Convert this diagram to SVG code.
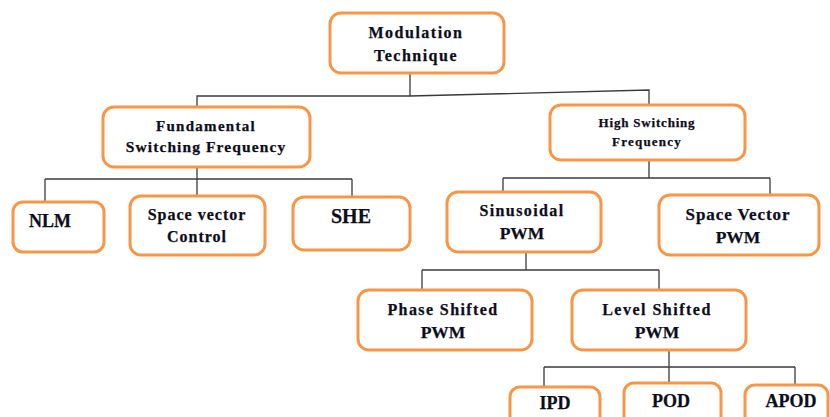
<svg xmlns="http://www.w3.org/2000/svg" width="830" height="417" viewBox="0 0 830 417">
<style>
.box{fill:#fff;stroke:#F79646;stroke-width:3}
.t{font-family:"Liberation Serif","Times New Roman",serif;font-weight:bold;fill:#0d0d1a;text-anchor:middle;stroke:#0d0d1a;stroke-width:0.25}
.c{fill:none;stroke:#3a3a3a;stroke-width:1.3}
</style>
<rect width="830" height="417" fill="#fff"/>
<g id="connectors">
<path class="c" d="M410 73V96H197V107M410 96L649 90V105"/>
<path class="c" d="M197 167V179M45 179H352M45 179V202M197 179V196M352 179V197"/>
<path class="c" d="M649 160V178M503 178H770M503 178V192M770 178V195"/>
<path class="c" d="M526 252V270M422 270H659M422 270V290M659 270V290"/>
<path class="c" d="M669 350V384M544 367H795M544 367V387M795 367V385"/>
</g>
<g id="modulation">
<rect class="box" x="330" y="13" width="174" height="60" rx="11"/>
<text class="t" x="416" y="38" font-size="16" letter-spacing="1.5">Modulation</text>
<text class="t" x="416" y="61" font-size="16" letter-spacing="1.5">Technique</text>
</g>
<g id="fundamental">
<rect class="box" x="103" y="107" width="207" height="60" rx="11"/>
<text class="t" x="206" y="131" font-size="15" letter-spacing="1.3">Fundamental</text>
<text class="t" x="206" y="152" font-size="15.5" letter-spacing="1.1">Switching Frequency</text>
</g>
<g id="high">
<rect class="box" x="550" y="105" width="195" height="55" rx="11"/>
<text class="t" x="647" y="127" font-size="13" letter-spacing="0.8">High Switching</text>
<text class="t" x="647" y="146" font-size="13" letter-spacing="1.2">Frequency</text>
</g>
<g id="nlm">
<rect class="box" x="13" y="202" width="91" height="50" rx="10"/>
<text class="t" x="50" y="227" font-size="18">NLM</text>
</g>
<g id="svc">
<rect class="box" x="130" y="196" width="135" height="59" rx="11"/>
<text class="t" x="197" y="220" font-size="16" letter-spacing="1">Space vector</text>
<text class="t" x="197" y="242" font-size="16" letter-spacing="1">Control</text>
</g>
<g id="she">
<rect class="box" x="293" y="197" width="117" height="53" rx="11"/>
<text class="t" x="351" y="223" font-size="20">SHE</text>
</g>
<g id="sinusoidal">
<rect class="box" x="447" y="192" width="154" height="60" rx="11"/>
<text class="t" x="522" y="216" font-size="16" letter-spacing="1.4">Sinusoidal</text>
<text class="t" x="522" y="239" font-size="17.5">PWM</text>
</g>
<g id="svpwm">
<rect class="box" x="659" y="195" width="160" height="60" rx="11"/>
<text class="t" x="738" y="220" font-size="17" letter-spacing="0.9">Space Vector</text>
<text class="t" x="738" y="243" font-size="17.5">PWM</text>
</g>
<g id="phase">
<rect class="box" x="358" y="290" width="174" height="60" rx="11"/>
<text class="t" x="443" y="315" font-size="16" letter-spacing="1.4">Phase Shifted</text>
<text class="t" x="443" y="338" font-size="17.5">PWM</text>
</g>
<g id="level">
<rect class="box" x="572" y="290" width="174" height="60" rx="11"/>
<text class="t" x="657" y="315" font-size="16" letter-spacing="1.5">Level Shifted</text>
<text class="t" x="657" y="338" font-size="17.5">PWM</text>
</g>
<g id="ipd">
<rect class="box" x="510" y="387" width="90" height="45" rx="10"/>
<text class="t" x="555" y="409" font-size="18">IPD</text>
</g>
<g id="pod">
<rect class="box" x="624" y="383" width="97" height="45" rx="10"/>
<text class="t" x="671" y="407" font-size="18">POD</text>
</g>
<g id="apod">
<rect class="box" x="745" y="385" width="83" height="45" rx="10"/>
<text class="t" x="791" y="407" font-size="18">APOD</text>
</g>
</svg>
